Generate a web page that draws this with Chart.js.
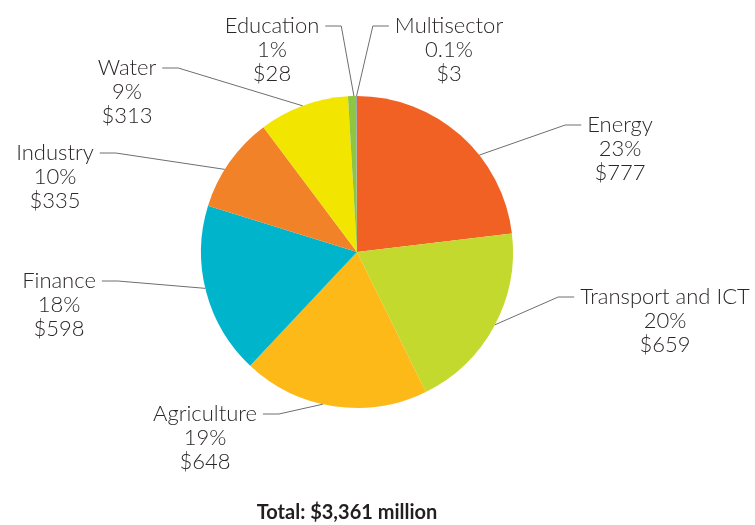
<!DOCTYPE html>
<html>
<head>
<meta charset="utf-8">
<script src="https://cdn.jsdelivr.net/npm/chart.js@4.4.1/dist/chart.umd.min.js"></script>
<style>
  html, body { margin: 0; padding: 0; background: #fff; }
  #wrap { width: 755px; height: 525px; }
</style>
</head>
<body>
<div id="wrap"><canvas id="pie" width="755" height="525"></canvas></div>
<script>
// sectors, clockwise from 12 o'clock
const sectors = ['Energy', 'Transport and ICT', 'Agriculture', 'Finance', 'Industry', 'Water', 'Education', 'Multisector'];
const amounts = [777, 659, 648, 598, 335, 313, 28, 3];
const shares = ['23%', '20%', '19%', '18%', '10%', '9%', '1%', '0.1%'];
const sliceColors = ['#F26124', '#C4D92E', '#FCB918', '#00B5CB', '#F28228', '#F2E600', '#8DC63F', '#939BA6'];
const totalText = 'Total: $3,361 million';

// label placement: text block centre, first line y, where along the slice the leader touches
const labelLayout = [
    { cx: 620, y: 125, side: 'right', at: 0.62 },
    { cx: 665, y: 297, side: 'right', at: 0.49 },
    { cx: 205, y: 414, side: 'left', at: 0.56 },
    { cx: 59, y: 281, side: 'left', at: 0.52 },
    { cx: 55, y: 153, side: 'left', at: 0.41 },
    { cx: 127, y: 68, side: 'left', at: 0.49 },
    { cx: 272, y: 26, side: 'left', at: 0.73 },
    { cx: 449, y: 26, side: 'right', at: 0.5 }
];

const FONT = '300 22px Lato, "Open Sans", sans-serif';
const LINE_GAP = 24;

const leaderLabels = {
    id: 'leaderLabels',
    afterDraw(chart) {
        const ctx = chart.ctx;
        const arcs = chart.getDatasetMeta(0).data;
        ctx.save();
        ctx.font = FONT;
        ctx.textAlign = 'center';
        ctx.textBaseline = 'middle';
        arcs.forEach((arc, i) => {
            const lay = labelLayout[i];
            const lines = [sectors[i], shares[i], '$' + amounts[i]];
            ctx.fillStyle = '#2b2627';
            lines.forEach((t, k) => ctx.fillText(t, lay.cx, lay.y + k * LINE_GAP));

            // leader line: short horizontal stub then straight to the slice edge
            const w = ctx.measureText(lines[0]).width;
            const dir = lay.side === 'right' ? -1 : 1;
            const edge = lay.cx + dir * w / 2;
            const x0 = edge + dir * 6;
            const x1 = edge + dir * 22;
            const a = arc.startAngle + lay.at * (arc.endAngle - arc.startAngle);
            const px = arc.x + Math.cos(a) * arc.outerRadius;
            const py = arc.y + Math.sin(a) * arc.outerRadius;
            ctx.strokeStyle = '#6d6e71';
            ctx.lineWidth = 1;
            ctx.beginPath();
            ctx.moveTo(x0, lay.y);
            ctx.lineTo(x1, lay.y);
            ctx.lineTo(px, py);
            ctx.stroke();
        });
        ctx.font = 'bold 20px Lato, "Open Sans", sans-serif';
        ctx.fillStyle = '#231f20';
        ctx.fillText(totalText, 347, 513);
        ctx.restore();
    }
};

new Chart(document.getElementById('pie'), {
    type: 'pie',
    data: {
        labels: sectors,
        datasets: [{
            data: amounts,
            backgroundColor: sliceColors,
            borderWidth: 0
        }]
    },
    options: {
        responsive: false,
        animation: false,
        layout: {
            padding: { left: 201, right: 242, top: 96, bottom: 117 }
        },
        plugins: {
            legend: { display: false },
            tooltip: { enabled: false }
        }
    },
    plugins: [leaderLabels]
});
</script>
</body>
</html>
